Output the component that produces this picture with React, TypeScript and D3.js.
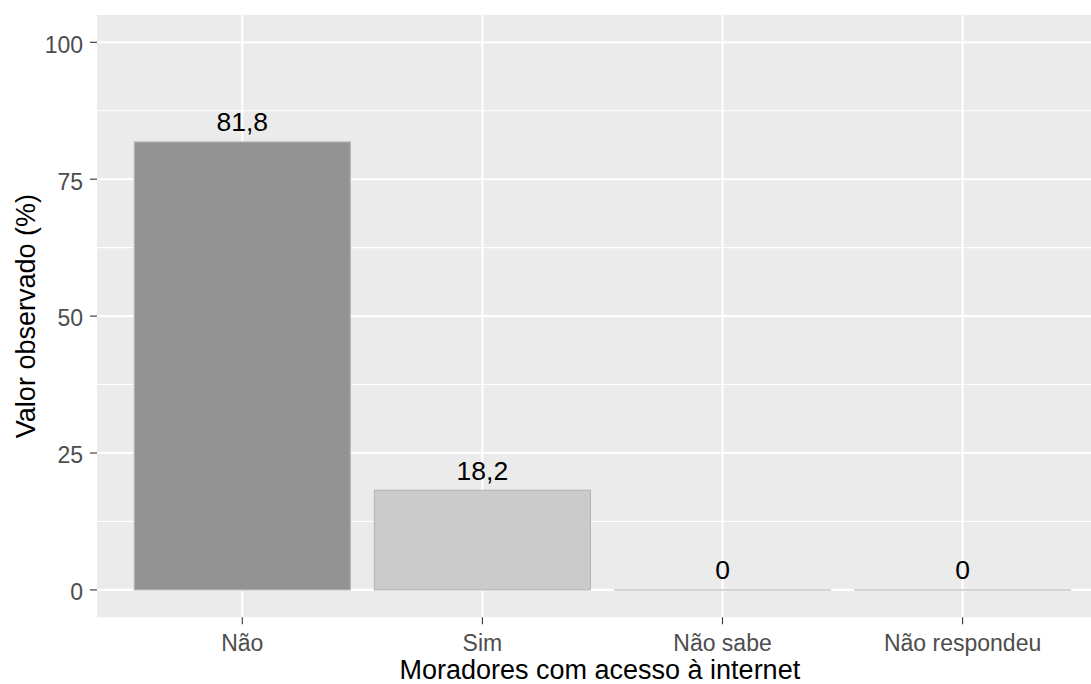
import React from "react";
import * as d3 from "d3";

const categories = ["Não", "Sim", "Não sabe", "Não respondeu"];
const values = [81.8, 18.2, 0, 0];
const labels = ["81,8", "18,2", "0", "0"];
const fills = ["#939393", "#cbcbcb", "#bdbdbd", "#bdbdbd"];
const yTicks = [0, 25, 50, 75, 100];
const yMinor = [12.5, 37.5, 62.5, 87.5];

const W = 1091;
const H = 684;
const panel = { left: 97, top: 14.9, bottom: 617.3 };

export default function App() {
  const y = d3.scaleLinear().domain([-5, 105]).range([panel.bottom, panel.top]);
  const step = 240.1;
  const c0 = 242.3;
  const x = d3
    .scaleLinear()
    .domain([1, 4])
    .range([c0, c0 + 3 * step]);
  const panelRight = x(4.6);
  const bw = 0.9 * step;
  const font = "'Liberation Sans', Arial, sans-serif";
  return (
    <svg
      width={W}
      height={H}
      style={{ position: "absolute", left: 0, top: 0, background: "#fff" }}
      fontFamily={font}
    >
      <rect x={panel.left} y={panel.top} width={panelRight - panel.left} height={panel.bottom - panel.top} fill="#ebebeb" />
      {yMinor.map((t) => (
        <line key={"m" + t} x1={panel.left} x2={panelRight} y1={y(t)} y2={y(t)} stroke="#fff" strokeWidth={1.1} />
      ))}
      {yTicks.map((t) => (
        <line key={"g" + t} x1={panel.left} x2={panelRight} y1={y(t)} y2={y(t)} stroke="#fff" strokeWidth={2.1} />
      ))}
      {categories.map((c, i) => (
        <line key={"v" + c} x1={x(i + 1)} x2={x(i + 1)} y1={panel.top} y2={panel.bottom} stroke="#fff" strokeWidth={2.1} />
      ))}
      {categories.map((c, i) => {
        const top = y(values[i]);
        const base = y(0);
        return (
          <rect
            key={"b" + c}
            x={x(i + 1) - bw / 2}
            y={Math.min(top, base)}
            width={bw}
            height={Math.max(Math.abs(base - top), 0.01)}
            fill={fills[i]}
            stroke="#b4b4b4"
            strokeWidth={1.1}
          />
        );
      })}
      {categories.map((c, i) => (
        <text key={"l" + c} x={x(i + 1)} y={y(values[i]) - 10.5} textAnchor="middle" fontSize={26.5} fill="#000">
          {labels[i]}
        </text>
      ))}
      {yTicks.map((t) => (
        <g key={"yt" + t}>
          <line x1={panel.left - 7} x2={panel.left} y1={y(t)} y2={y(t)} stroke="#333" strokeWidth={1.1} />
          <text x={panel.left - 14} y={y(t)} dy="0.45em" textAnchor="end" fontSize={23} fill="#4d4d4d">
            {t}
          </text>
        </g>
      ))}
      {categories.map((c, i) => (
        <g key={"xt" + c}>
          <line x1={x(i + 1)} x2={x(i + 1)} y1={panel.bottom} y2={panel.bottom + 7} stroke="#333" strokeWidth={1.1} />
          <text x={x(i + 1)} y={651} textAnchor="middle" fontSize={23} fill="#4d4d4d">
            {c}
          </text>
        </g>
      ))}
      <text x={(panel.left + panelRight) / 2 - 2} y={679} textAnchor="middle" fontSize={27} fill="#000">
        Moradores com acesso à internet
      </text>
      <text
        transform={`translate(35, ${(panel.top + panel.bottom) / 2}) rotate(-90)`}
        textAnchor="middle"
        fontSize={27}
        fill="#000"
      >
        Valor observado (%)
      </text>
    </svg>
  );
}
